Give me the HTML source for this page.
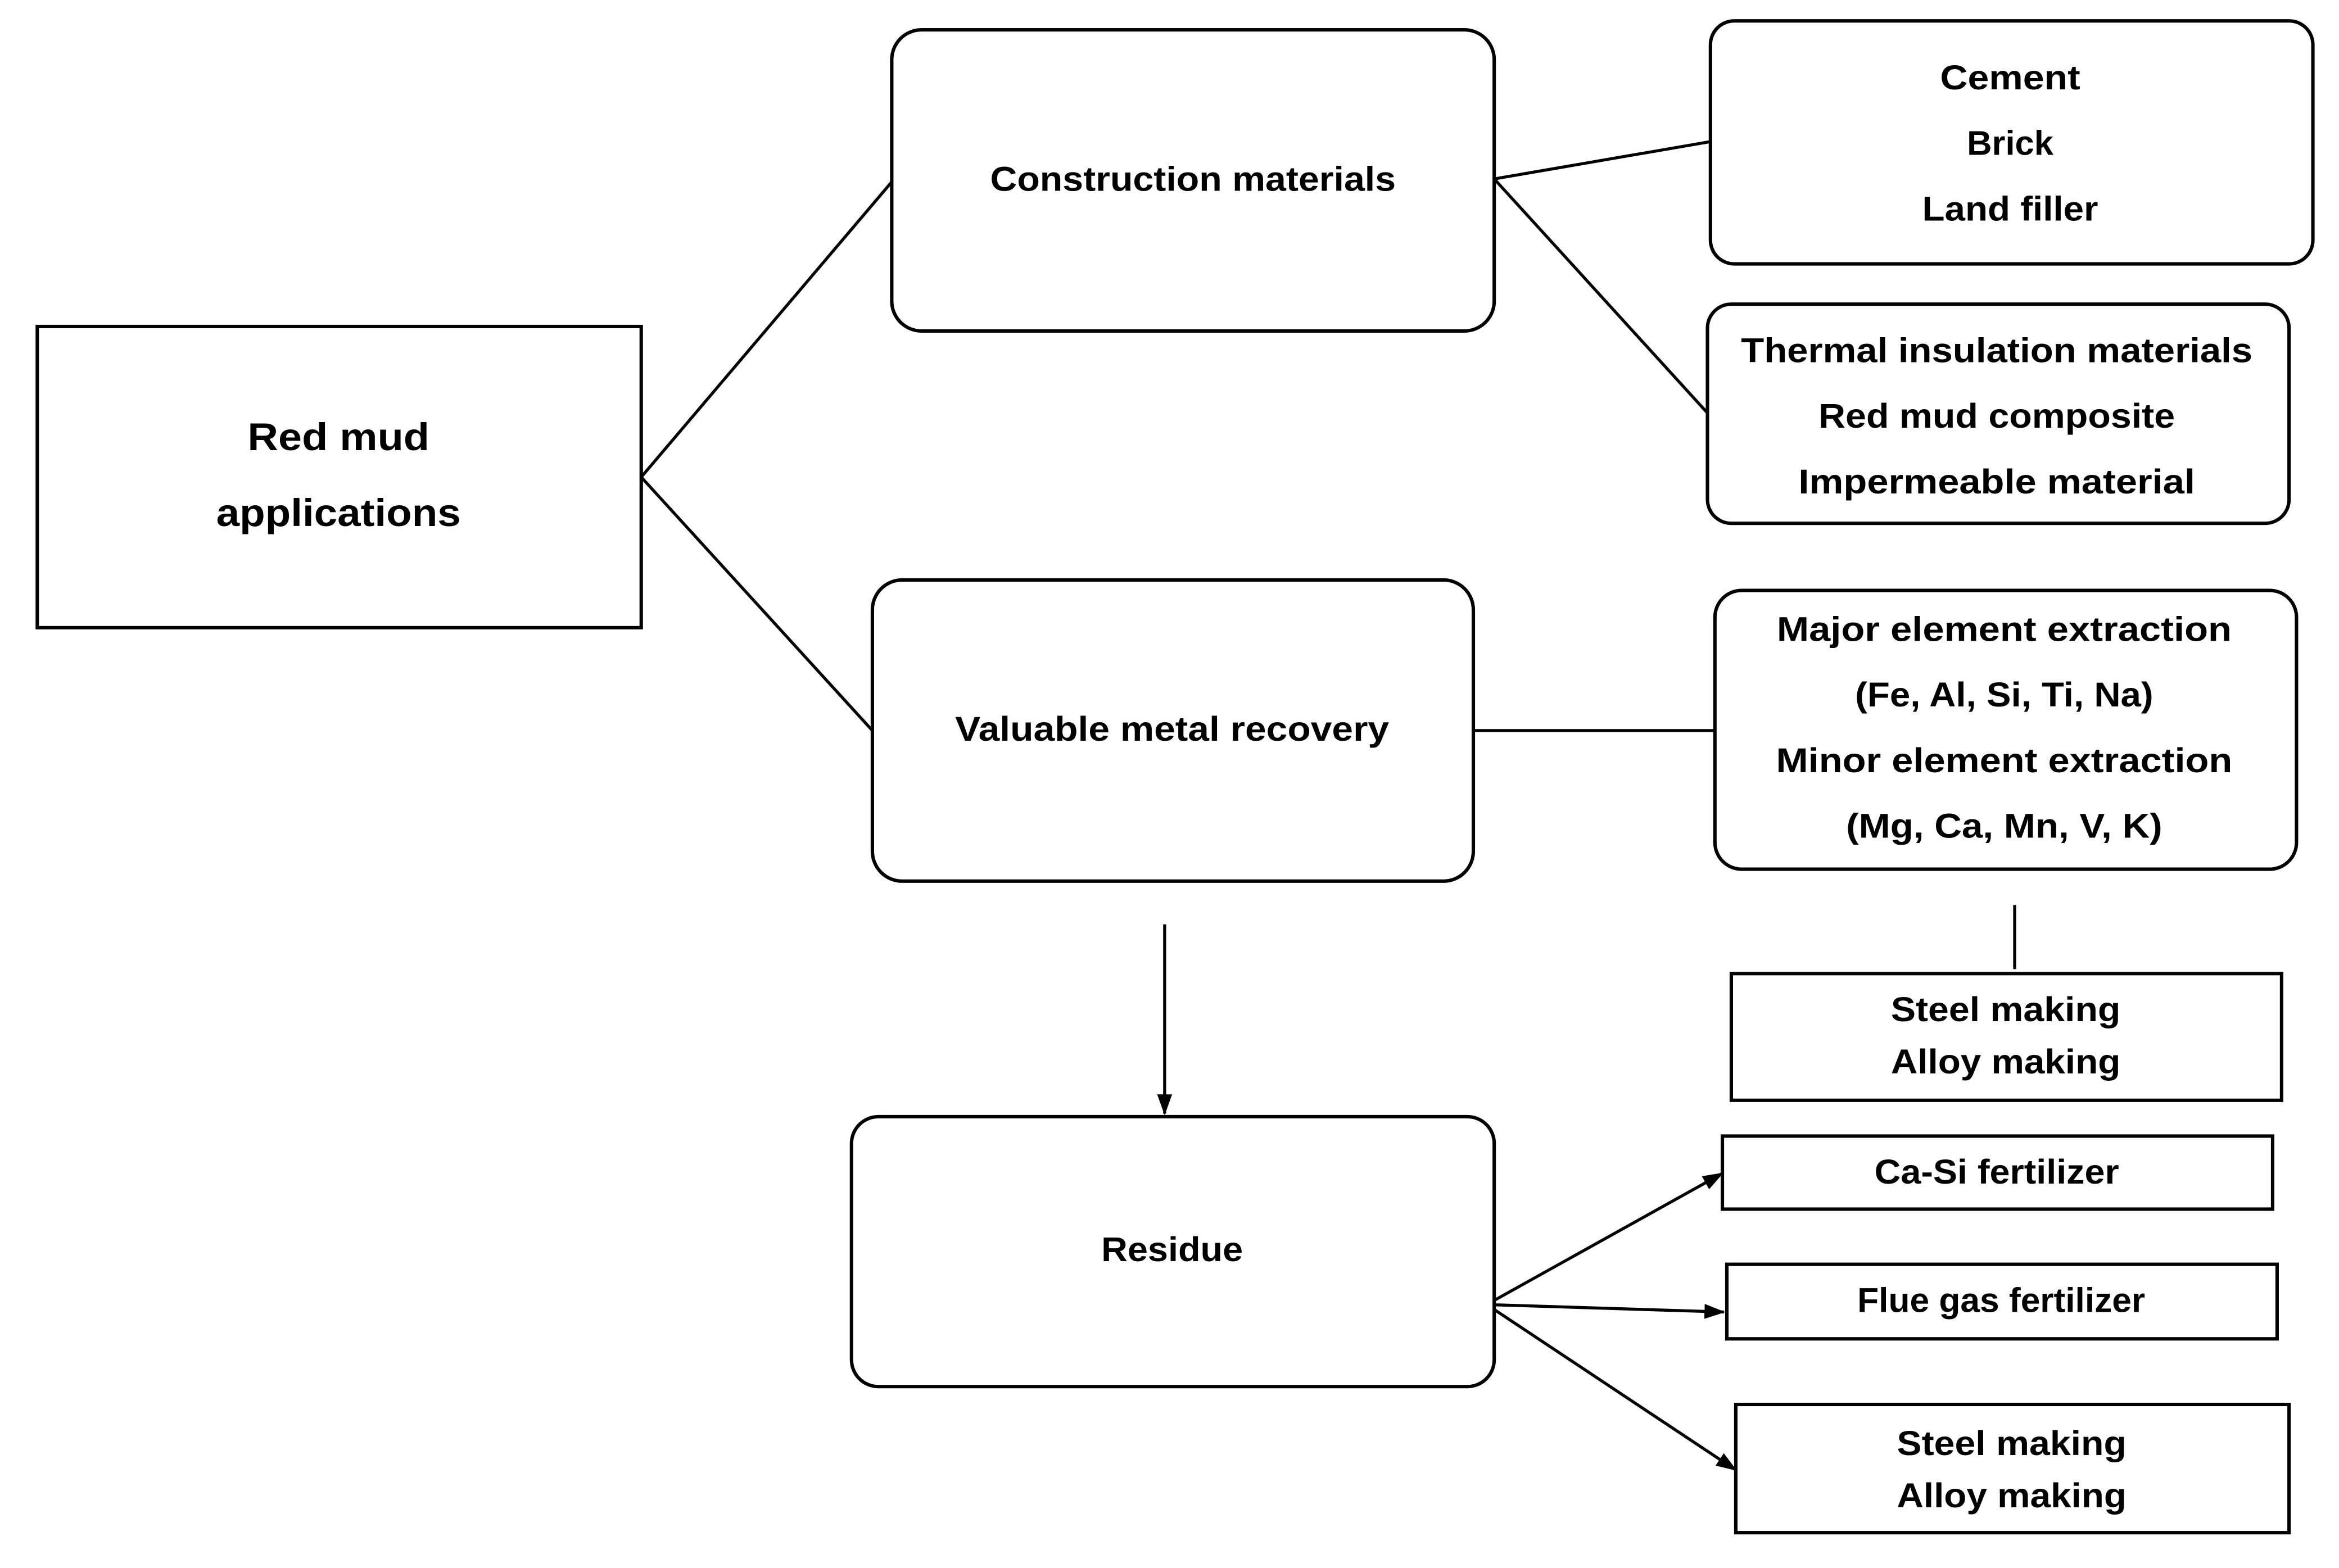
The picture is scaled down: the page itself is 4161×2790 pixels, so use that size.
<!DOCTYPE html>
<html><head><meta charset="utf-8"><style>
html,body{margin:0;padding:0;background:#fff;}
svg{display:block;}
text{font-family:"Liberation Sans",sans-serif;font-weight:bold;fill:#000;text-anchor:middle;dominant-baseline:central;font-size:23px;}
.b{fill:#fff;stroke:#000;stroke-width:2.3;}
.l{stroke:#000;stroke-width:2;fill:none;}
</style></head><body>
<svg width="4161" height="2790" viewBox="0 0 1568.5 1051.7" preserveAspectRatio="none" xmlns="http://www.w3.org/2000/svg">
<defs><marker id="a" markerWidth="14" markerHeight="10" refX="13" refY="5" orient="auto" markerUnits="userSpaceOnUse"><path d="M0,0 L14,5 L0,10 z" fill="#000"/></marker></defs>
<line class="l" x1="430" y1="320" x2="598" y2="122"/>
<line class="l" x1="430" y1="320" x2="585" y2="490"/>
<line class="l" x1="1002" y1="120" x2="1147" y2="95"/>
<line class="l" x1="1002" y1="120" x2="1145" y2="277"/>
<line class="l" x1="988" y1="490" x2="1150" y2="490"/>
<line class="l" x1="1351" y1="607" x2="1351" y2="650"/>
<line class="l" x1="781" y1="620" x2="781" y2="747" marker-end="url(#a)"/>
<line class="l" x1="997" y1="875" x2="1155" y2="787" marker-end="url(#a)"/>
<line class="l" x1="997" y1="875" x2="1156" y2="880" marker-end="url(#a)"/>
<line class="l" x1="997" y1="875" x2="1164" y2="986" marker-end="url(#a)"/>

<rect class="b" x="25" y="219" width="405" height="202"/>
<text x="227" y="293" textLength="122" lengthAdjust="spacingAndGlyphs" style="font-size:26px">Red mud</text>
<text x="227" y="344" textLength="164" lengthAdjust="spacingAndGlyphs" style="font-size:26px">applications</text>

<rect class="b" x="598" y="20" width="404" height="202" rx="20"/>
<text x="800" y="120" textLength="272" lengthAdjust="spacingAndGlyphs">Construction materials</text>

<rect class="b" x="1147" y="14" width="404" height="163" rx="16"/>
<text x="1348" y="52" textLength="94" lengthAdjust="spacingAndGlyphs">Cement</text>
<text x="1348" y="96" textLength="58" lengthAdjust="spacingAndGlyphs">Brick</text>
<text x="1348" y="140" textLength="118" lengthAdjust="spacingAndGlyphs">Land filler</text>

<rect class="b" x="1145" y="204" width="390" height="147" rx="16"/>
<text x="1339" y="235" textLength="343" lengthAdjust="spacingAndGlyphs">Thermal insulation materials</text>
<text x="1339" y="279" textLength="239" lengthAdjust="spacingAndGlyphs">Red mud composite</text>
<text x="1339" y="323" textLength="266" lengthAdjust="spacingAndGlyphs">Impermeable material</text>

<rect class="b" x="585" y="389" width="403" height="202" rx="20"/>
<text x="786" y="489" textLength="291" lengthAdjust="spacingAndGlyphs">Valuable metal recovery</text>

<rect class="b" x="1150" y="396" width="390" height="187" rx="18"/>
<text x="1344" y="422" textLength="305" lengthAdjust="spacingAndGlyphs">Major element extraction</text>
<text x="1344" y="466" textLength="200" lengthAdjust="spacingAndGlyphs">(Fe, Al, Si, Ti, Na)</text>
<text x="1344" y="510" textLength="306" lengthAdjust="spacingAndGlyphs">Minor element extraction</text>
<text x="1344" y="554" textLength="212" lengthAdjust="spacingAndGlyphs">(Mg, Ca, Mn, V, K)</text>

<rect class="b" x="1161" y="653" width="369" height="85"/>
<text x="1345" y="677" textLength="154" lengthAdjust="spacingAndGlyphs">Steel making</text>
<text x="1345" y="712" textLength="154" lengthAdjust="spacingAndGlyphs">Alloy making</text>

<rect class="b" x="571" y="749" width="431" height="181" rx="18"/>
<text x="786" y="838" textLength="95" lengthAdjust="spacingAndGlyphs">Residue</text>

<rect class="b" x="1155" y="762" width="369" height="49"/>
<text x="1339" y="786" textLength="164" lengthAdjust="spacingAndGlyphs">Ca-Si fertilizer</text>

<rect class="b" x="1158" y="848" width="369" height="50"/>
<text x="1342" y="872" textLength="193" lengthAdjust="spacingAndGlyphs">Flue gas fertilizer</text>

<rect class="b" x="1164" y="942" width="371" height="86"/>
<text x="1349" y="968" textLength="154" lengthAdjust="spacingAndGlyphs">Steel making</text>
<text x="1349" y="1003" textLength="154" lengthAdjust="spacingAndGlyphs">Alloy making</text>
</svg>
</body></html>
